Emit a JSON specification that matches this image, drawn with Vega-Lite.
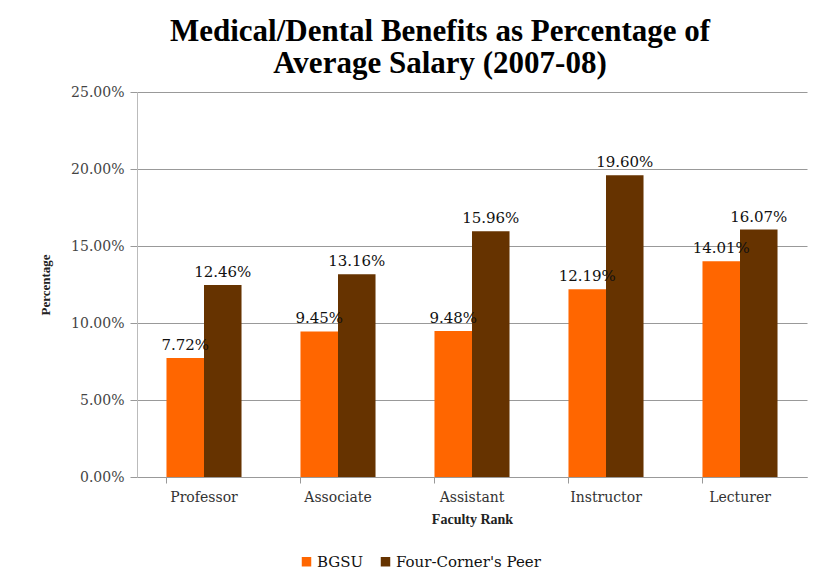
{
  "$schema": "https://vega.github.io/schema/vega-lite/v6.json",
  "width": 670,
  "height": 385,
  "autosize": "none",
  "padding": {"left": 137, "top": 92, "right": 14, "bottom": 98},
  "background": "white",
  "title": {
    "text": ["Medical/Dental Benefits as Percentage of", "Average Salary (2007-08)"],
    "font": "Liberation Serif",
    "fontSize": 31,
    "fontWeight": "bold",
    "color": "black",
    "lineHeight": 32,
    "anchor": "middle",
    "dx": -32,
    "offset": 5
  },
  "data": {
    "values": [
      {"rank": "Professor", "group": "BGSU", "value": 0.0772},
      {"rank": "Professor", "group": "Four-Corner's Peer", "value": 0.1246},
      {"rank": "Associate", "group": "BGSU", "value": 0.0945},
      {"rank": "Associate", "group": "Four-Corner's Peer", "value": 0.1316},
      {"rank": "Assistant", "group": "BGSU", "value": 0.0948},
      {"rank": "Assistant", "group": "Four-Corner's Peer", "value": 0.1596},
      {"rank": "Instructor", "group": "BGSU", "value": 0.1219},
      {"rank": "Instructor", "group": "Four-Corner's Peer", "value": 0.196},
      {"rank": "Lecturer", "group": "BGSU", "value": 0.1401},
      {"rank": "Lecturer", "group": "Four-Corner's Peer", "value": 0.1607}
    ]
  },
  "encoding": {
    "x": {
      "field": "rank",
      "type": "nominal",
      "sort": ["Professor", "Associate", "Assistant", "Instructor", "Lecturer"],
      "scale": {"paddingInner": 0.44, "paddingOuter": 0.22},
      "axis": {
        "title": "Faculty Rank",
        "labelAngle": 0,
        "labelFont": "DejaVu Serif",
        "labelFontSize": 14,
        "labelColor": "#333",
        "labelPadding": 7,
        "titleFont": "Liberation Serif",
        "titleFontSize": 14,
        "titleFontWeight": "bold",
        "titleColor": "#222",
        "titlePadding": 8,
        "bandPosition": 0,
        "tickColor": "#999",
        "tickSize": 6,
        "domainColor": "#999",
        "grid": false
      }
    },
    "xOffset": {
      "field": "group",
      "type": "nominal",
      "sort": ["BGSU", "Four-Corner's Peer"],
      "scale": {"paddingInner": 0, "paddingOuter": 0}
    },
    "y": {
      "field": "value",
      "type": "quantitative",
      "scale": {"domain": [0, 0.25]},
      "axis": {
        "title": "Percentage",
        "format": ".2%",
        "values": [0, 0.05, 0.1, 0.15, 0.2, 0.25],
        "labelFont": "DejaVu Serif",
        "labelFontSize": 14,
        "labelColor": "#444",
        "labelPadding": 6,
        "titleFont": "Liberation Serif",
        "titleFontSize": 13,
        "titleFontWeight": "bold",
        "titleColor": "#222",
        "titlePadding": 18,
        "tickColor": "#999",
        "tickSize": 7,
        "domainColor": "#bbb",
        "gridColor": "#999",
        "gridWidth": 1
      }
    }
  },
  "layer": [
    {
      "mark": {"type": "bar"},
      "encoding": {
        "color": {
          "field": "group",
          "type": "nominal",
          "sort": ["BGSU", "Four-Corner's Peer"],
          "scale": {"domain": ["BGSU", "Four-Corner's Peer"], "range": ["#FF6600", "#663300"]},
          "legend": {
            "title": null,
            "orient": "none",
            "legendX": 162,
            "legendY": 462,
            "direction": "horizontal",
            "symbolType": "square",
            "symbolSize": 90,
            "symbolStrokeWidth": 0,
            "labelFont": "DejaVu Serif",
            "labelFontSize": 15,
            "labelColor": "#111",
            "columnPadding": 14,
            "labelOffset": 3
          }
        }
      }
    },
    {
      "mark": {
        "type": "text",
        "baseline": "bottom",
        "dy": -5,
        "font": "DejaVu Serif",
        "fontSize": 15,
        "color": "#111"
      },
      "encoding": {
        "text": {"field": "value", "type": "quantitative", "format": ".2%"}
      }
    }
  ],
  "config": {
    "view": {"stroke": null}
  }
}
